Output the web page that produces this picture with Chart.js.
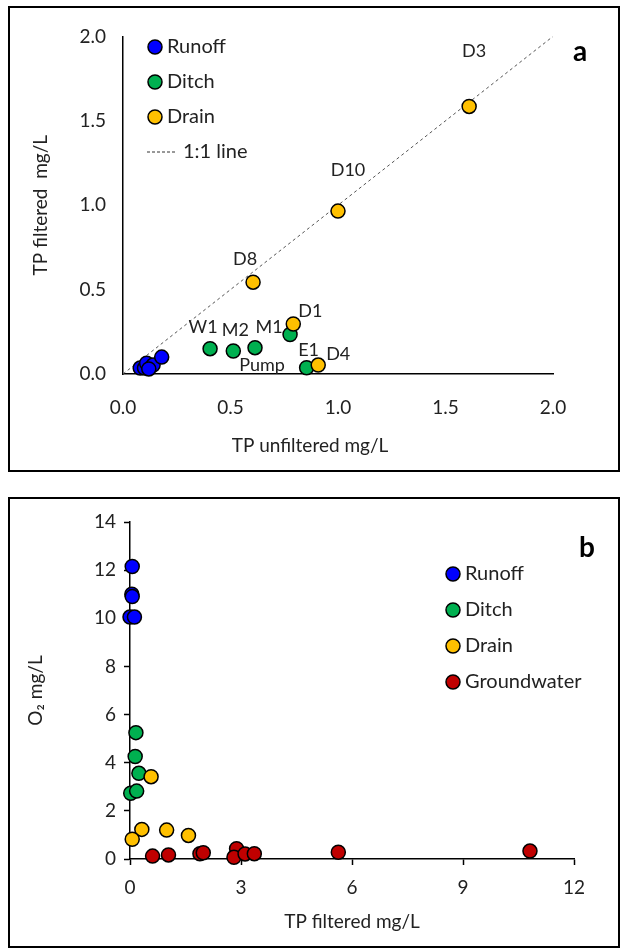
<!DOCTYPE html>
<html>
<head>
<meta charset="utf-8">
<script src="https://cdn.jsdelivr.net/npm/chart.js@4"></script>
<style>
  body { margin: 0; background: #fff; }
  .box { position: absolute; left: 8px; width: 608px; border: 2px solid #000; background: #fff; }
  #boxA { top: 6px; height: 462px; }
  #boxB { top: 497px; height: 447px; }
  canvas { display: block; }
</style>
</head>
<body>
<div class="box" id="boxA"><canvas id="chartA" width="608" height="462"></canvas></div>
<div class="box" id="boxB"><canvas id="chartB" width="608" height="447"></canvas></div>
<script>
// ---- panel a : TP filtered vs unfiltered
const runoffA_x = [0.08, 0.10, 0.11, 0.14, 0.18, 0.12];
const runoffA_y = [0.035, 0.035, 0.064, 0.053, 0.10, 0.03];
const ditchA_x = [0.405, 0.513, 0.614, 0.777, 0.854];
const ditchA_y = [0.15, 0.136, 0.156, 0.234, 0.037];
const ditchA_names = ['W1', 'M2', 'Pump', 'M1', 'E1'];
const drainA_x = [0.605, 1.0, 1.61, 0.792, 0.908];
const drainA_y = [0.544, 0.965, 1.585, 0.296, 0.053];
const drainA_names = ['D8', 'D10', 'D3', 'D1', 'D4'];
const oneToOne = [0, 2];

// ---- panel b : O2 vs TP filtered
const runoffB_x = [0.06, 0.05, 0.06, 0.0, 0.12];
const runoffB_y = [12.15, 11.0, 10.9, 10.05, 10.05];
const ditchB_x = [0.16, 0.14, 0.24, 0.02, 0.18];
const ditchB_y = [5.25, 4.26, 3.56, 2.73, 2.82];
const drainB_x = [0.57, 0.32, 0.06, 0.99, 1.58];
const drainB_y = [3.42, 1.23, 0.82, 1.2, 0.98];
const gwB_x = [0.61, 1.04, 1.89, 1.98, 2.88, 2.81, 3.11, 3.36, 5.63, 10.81];
const gwB_y = [0.12, 0.17, 0.22, 0.26, 0.43, 0.07, 0.21, 0.22, 0.28, 0.33];

const BLUE = '#0000ff', GREEN = '#00b050', YELLOW = '#ffc000', RED = '#c00000';
const TXT = '#222';
const FONT = 'Lato';

function pts(xs, ys) { return xs.map((x, i) => ({ x: x, y: ys[i] })); }

function dots(label, xs, ys, color, order, names) {
  return {
    label: label, data: pts(xs, ys), names: names,
    backgroundColor: color, borderColor: '#000', borderWidth: 1.5,
    pointRadius: 7, pointHoverRadius: 7, order: order, clip: false
  };
}

// offsets of the point name labels (px)
const nameOffsets = {
  W1: [-7, -21], M2: [2, -21], Pump: [7, 18], M1: [-21, -7], E1: [2, -18],
  D8: [-8, -23], D10: [10, -41], D3: [5, -55], D1: [17, -13], D4: [20, -11]
};

const overlay = {
  id: 'overlay',
  afterDatasetsDraw(chart, args, opts) {
    const ctx = chart.ctx;
    const xs = chart.scales.x, ys = chart.scales.y;
    ctx.save();
    ctx.fillStyle = TXT;
    ctx.textAlign = 'center';
    ctx.textBaseline = 'middle';
    ctx.font = '18px ' + FONT;
    chart.data.datasets.forEach(ds => {
      if (!ds.names) return;
      ds.data.forEach((p, i) => {
        const off = nameOffsets[ds.names[i]] || [0, -18];
        ctx.fillText(ds.names[i], xs.getPixelForValue(p.x) + off[0], ys.getPixelForValue(p.y) + off[1]);
      });
    });
    // x axis title placed like the original (off centre)
    if (opts.xTitle) {
      ctx.font = '19px ' + FONT;
      ctx.fillText(opts.xTitle, opts.xTitleX, opts.xTitleY);
    }
    // legend
    ctx.textAlign = 'left';
    ctx.font = '20px ' + FONT;
    let y = opts.legendY;
    chart.data.datasets.forEach(ds => {
      if (ds.showLine) {
        ctx.strokeStyle = '#333';
        ctx.lineWidth = 1;
        ctx.setLineDash([3, 2]);
        ctx.beginPath();
        ctx.moveTo(opts.legendX - 8, y);
        ctx.lineTo(opts.legendX + 21, y);
        ctx.stroke();
        ctx.setLineDash([]);
        ctx.fillText(ds.label, opts.legendX + 28, y);
      } else {
        ctx.beginPath();
        ctx.arc(opts.legendX, y, 7, 0, Math.PI * 2);
        ctx.fillStyle = ds.backgroundColor;
        ctx.fill();
        ctx.lineWidth = 1.5;
        ctx.strokeStyle = '#000';
        ctx.stroke();
        ctx.fillStyle = TXT;
        ctx.fillText(ds.label, opts.legendX + 12, y);
      }
      y += opts.legendGap;
    });
    ctx.font = 'bold 28px ' + FONT;
    ctx.fillStyle = '#000';
    ctx.textAlign = 'center';
    ctx.fillText(opts.letter, opts.letterX, opts.letterY);
    ctx.restore();
  }
};

function axis(min, max, step, title, fitSize, horiz, titlePad, drawTicks, tickPad, fmt) {
  return {
    type: 'linear', min: min, max: max,
    afterFit(s) { if (horiz) s.height = fitSize; else s.width = fitSize; },
    border: { display: true, color: '#000', width: 1.5 },
    grid: { display: true, drawOnChartArea: false, drawTicks: drawTicks, tickLength: 6, tickWidth: 1.5, tickColor: '#000' },
    ticks: { stepSize: step, color: TXT, padding: tickPad, font: { family: FONT, size: 19 }, callback: fmt },
    title: { display: !!title, text: title, color: TXT, font: { family: FONT, size: 19 }, padding: titlePad }
  };
}

new Chart(document.getElementById('chartA'), {
  type: 'scatter',
  data: {
    datasets: [
      dots('Runoff', runoffA_x, runoffA_y, BLUE, 2),
      dots('Ditch', ditchA_x, ditchA_y, GREEN, 1, ditchA_names),
      dots('Drain', drainA_x, drainA_y, YELLOW, 0, drainA_names),
      {
        label: '1:1 line', data: pts(oneToOne, oneToOne), showLine: true,
        borderColor: '#555', borderWidth: 1, borderDash: [3, 3], pointRadius: 0, order: 3
      }
    ]
  },
  options: {
    responsive: false, animation: false,
    layout: { padding: { top: 24, right: 65, left: 0, bottom: 0 } },
    plugins: {
      legend: { display: false }, tooltip: { enabled: false },
      overlay: {
        legendX: 145, legendY: 39, legendGap: 35, letter: 'a', letterX: 570, letterY: 44,
        xTitle: 'TP unfiltered mg/L', xTitleX: 300, xTitleY: 438
      }
    },
    scales: {
      x: axis(0, 2, 0.5, '', 96, true, 0, false, 22, v => v.toFixed(1)),
      y: axis(0, 2, 0.5, 'TP filtered  mg/L', 113, false, { top: 19, bottom: 0 }, false, 17, v => v.toFixed(1))
    }
  },
  plugins: [overlay]
});

new Chart(document.getElementById('chartB'), {
  type: 'scatter',
  data: {
    datasets: [
      dots('Runoff', runoffB_x, runoffB_y, BLUE, 3),
      dots('Ditch', ditchB_x, ditchB_y, GREEN, 2),
      dots('Drain', drainB_x, drainB_y, YELLOW, 1),
      dots('Groundwater', gwB_x, gwB_y, RED, 0)
    ]
  },
  options: {
    responsive: false, animation: false,
    layout: { padding: { top: 23, right: 44, left: 0, bottom: 0 } },
    plugins: {
      legend: { display: false }, tooltip: { enabled: false },
      overlay: { legendX: 443, legendY: 75, legendGap: 36, letter: 'b', letterX: 577, letterY: 49 }
    },
    scales: {
      x: axis(0, 12, 3, 'TP filtered mg/L', 87, true, { top: 0, bottom: 13 }, true, 11, v => v),
      y: axis(0, 14, 2, 'O\u2082 mg/L', 120, false, { top: 14, bottom: 0 }, true, 8, v => v)
    }
  },
  plugins: [overlay]
});
</script>
</body>
</html>
